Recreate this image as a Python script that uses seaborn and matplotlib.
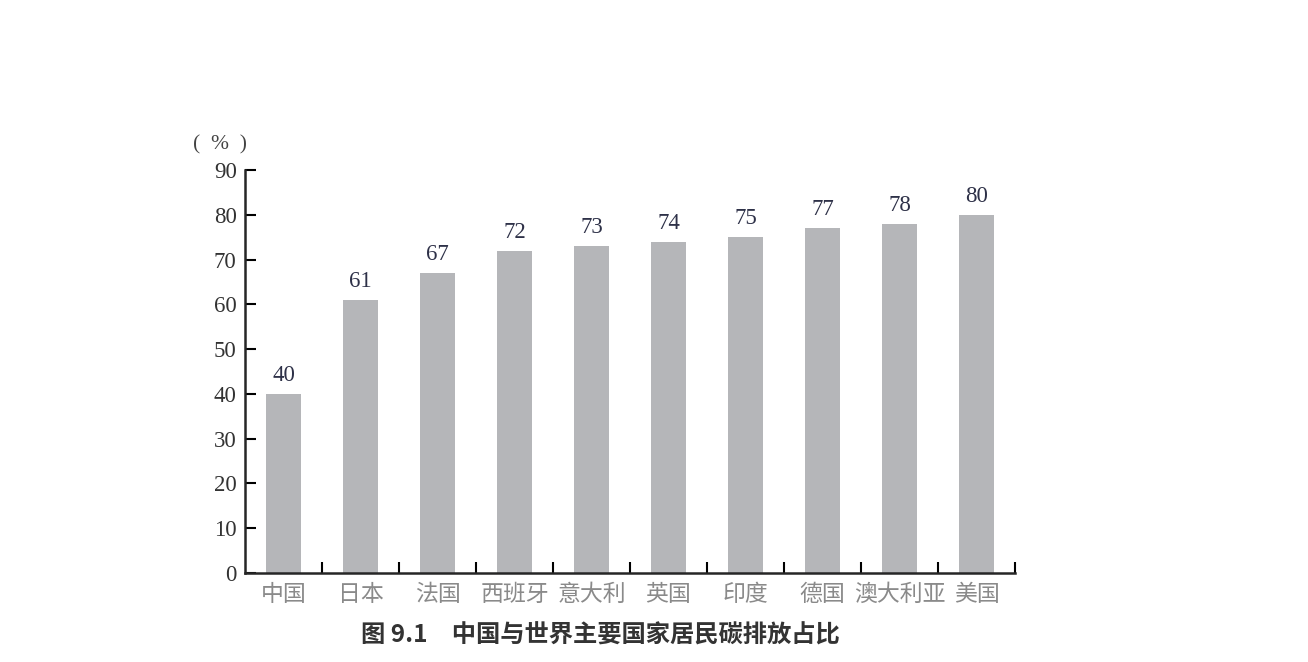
import pandas as pd
import matplotlib.pyplot as plt
import seaborn as sns

sns.set_style('ticks')
plt.rcParams['font.family'] = ['Liberation Serif', 'Noto Sans CJK SC', 'DejaVu Sans']

#%% Data
countries = ['中国', '日本', '法国', '西班牙', '意大利', '英国', '印度', '德国', '澳大利亚', '美国']
shares = [40, 61, 67, 72, 73, 74, 75, 77, 78, 80]
yticks = [0, 10, 20, 30, 40, 50, 60, 70, 80, 90]

df = pd.DataFrame({'country': countries, 'share': shares})

#%% Plot
fig = plt.figure(figsize=(13.08, 6.62), dpi=100)
ax = fig.add_axes([0.1873, 0.1344, 0.5887, 0.6088])

sns.barplot(data=df, x='country', y='share', color='#b5b6b9',
            saturation=1, width=0.45, linewidth=0, ax=ax)

for i, v in enumerate(shares):
    ax.text(i, v + 1.8, str(v), ha='center', va='bottom',
            fontsize=16.5, color='#2e3148')

ax.set_xlim(-0.5, 9.5)
ax.set_ylim(0, 90)
ax.set_yticks(yticks)
ax.set_yticklabels([str(t) for t in yticks], fontsize=16.5, color='#333333')

# category labels without ticks, boundary ticks instead
ax.set_xticks(range(len(countries)))
ax.set_xticklabels(countries, fontsize=16.5, color='#8a8a8a',
                   family=['Noto Sans CJK SC', 'DejaVu Sans'])
ax.tick_params(axis='x', length=0, pad=7)
ax.set_xticks([i + 0.5 for i in range(len(countries))], minor=True)
ax.tick_params(axis='x', which='minor', direction='in', length=8, width=1.5, color='black')
ax.tick_params(axis='y', direction='in', length=8, width=1.5, color='black', pad=6)

ax.set_xlabel('')
ax.set_ylabel('')
sns.despine(ax=ax)
ax.spines['left'].set_linewidth(1.8)
ax.spines['bottom'].set_linewidth(1.8)

ax.text(-0.032, 1.062, '(  %  )', transform=ax.transAxes, ha='center', va='center',
        fontsize=15.5, color='#444444')

fig.text(0.459, 0.04, '图 9.1\u3000中国与世界主要国家居民碳排放占比', ha='center', va='center',
         fontsize=17.5, fontweight='bold', color='#333333',
         family=['Noto Sans CJK SC', 'DejaVu Sans'])

fig.savefig('out.png', dpi=100)
